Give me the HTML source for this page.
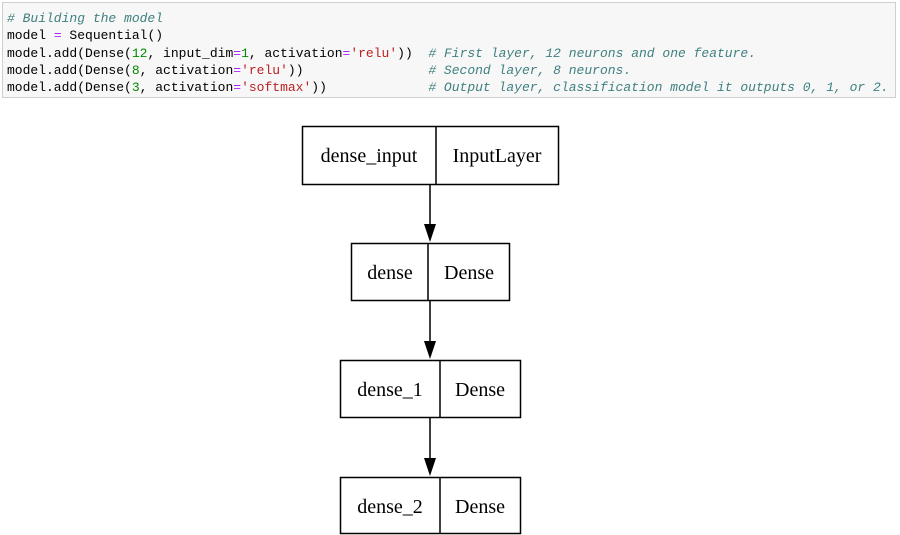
<!DOCTYPE html>
<html><head><style>
body{margin:0;width:900px;height:535px;background:#fff;position:relative;overflow:hidden}
.code{position:absolute;left:2px;top:2px;width:894px;height:96px;background:#f7f7f7;border:1px solid #cfcfcf;box-sizing:border-box}
pre{margin:0;position:absolute;left:4px;top:7px;font-family:"Liberation Mono",monospace;font-size:13px;line-height:17.3px;color:#000}
.c{color:#408080;font-style:italic}.n{color:#080}.s{color:#ba2121}.o{color:#a2f}
</style></head><body>
<div class="code"><pre><span class="c"># Building the model</span>
model <span class="o">=</span> Sequential()
model.add(Dense(<span class="n">12</span>, input_dim<span class="o">=</span><span class="n">1</span>, activation<span class="o">=</span><span class="s">'relu'</span>))  <span class="c"># First layer, 12 neurons and one feature.</span>
model.add(Dense(<span class="n">8</span>, activation<span class="o">=</span><span class="s">'relu'</span>))                <span class="c"># Second layer, 8 neurons.</span>
model.add(Dense(<span class="n">3</span>, activation<span class="o">=</span><span class="s">'softmax'</span>))             <span class="c"># Output layer, classification model it outputs 0, 1, or 2.</span></pre></div>
<svg width="900" height="535" style="position:absolute;left:0;top:0" font-family="Liberation Serif,serif" font-size="20">
<g fill="none" stroke="#000" stroke-width="1.5">
<rect x="302.5" y="126.5" width="256" height="58"/><line x1="436" y1="126" x2="436" y2="184"/>
<rect x="351.5" y="243.5" width="158" height="57"/><line x1="428" y1="243" x2="428" y2="300"/>
<rect x="340.5" y="360.5" width="180" height="57"/><line x1="440" y1="360" x2="440" y2="417"/>
<rect x="340.5" y="477.5" width="180" height="56"/><line x1="440" y1="477" x2="440" y2="534"/>
<line x1="430" y1="185" x2="430" y2="225"/><line x1="430" y1="301" x2="430" y2="342"/><line x1="430" y1="418" x2="430" y2="459"/>
</g>
<g fill="#000">
<polygon points="424,224 436,224 430,242"/><polygon points="424,341 436,341 430,359"/><polygon points="424,458 436,458 430,476"/>
</g>
<g text-anchor="middle" fill="#000">
<text x="369" y="162">dense_input</text><text x="497" y="162">InputLayer</text>
<text x="390" y="279">dense</text><text x="469" y="279">Dense</text>
<text x="390" y="396">dense_1</text><text x="480" y="396">Dense</text>
<text x="390" y="513">dense_2</text><text x="480" y="513">Dense</text>
</g>
</svg>
</body></html>
